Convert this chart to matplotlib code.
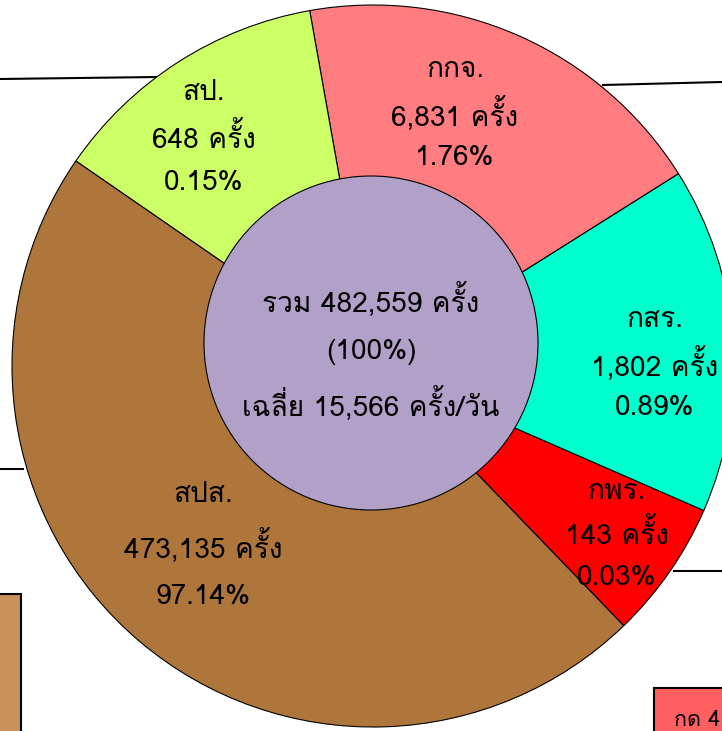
import matplotlib
matplotlib.use("Agg")
import matplotlib.pyplot as plt
from matplotlib.patches import Circle, Rectangle

# ข้อมูล
agencies = ["กพร.", "กสร.", "กกจ.", "สป.", "สปส."]
counts = ["143", "1,802", "6,831", "648", "473,135"]
percents = ["0.03%", "0.89%", "1.76%", "0.15%", "97.14%"]
# ring share as drawn in the infographic (not proportional to counts)
ring_share = [22.4, 55.8, 67.9, 45.3, 168.6]
colors = ["#FF0000", "#00FFCC", "#FF7C80", "#CCFF66", "#AF763B"]
total_text = ["รวม 482,559 ครั้ง", "(100%)", "เฉลี่ย 15,566 ครั้ง/วัน"]

plt.rcParams["font.family"] = ["Loma", "DejaVu Sans"]

fig = plt.figure(figsize=(7.22, 7.31), dpi=100)
ax = fig.add_axes([0, 0, 1, 1])

# leader lines
ax.plot([0, 157], [731 - 79, 731 - 77], color="black", lw=1.5, zorder=1)
ax.plot([603, 722], [731 - 85, 731 - 82], color="black", lw=1.5, zorder=1)
ax.plot([0, 23], [731 - 469, 731 - 469], color="black", lw=1.5, zorder=1)
ax.plot([674, 722], [731 - 571, 731 - 571], color="black", lw=1.5, zorder=1)

wedges, _ = ax.pie(ring_share, colors=colors, startangle=-46.0, counterclock=True,
                   center=(373, 365), radius=361,
                   wedgeprops=dict(edgecolor="black", linewidth=0.8))
for w in wedges:
    w.set_zorder(2)
ax.set_xlim(0, 722)
ax.set_ylim(0, 731)
ax.axis("off")

ax.add_patch(Circle((371, 388), 167, facecolor="#B1A0C7", edgecolor="black", lw=0.8, zorder=3))

label_pos = [(617, 492), (655, 320), (455, 70), (204, 93), (203, 495)]
gaps = [43, 44, 44, 45, 51]
for (x, y), a, c, p, g in zip(label_pos, agencies, counts, percents, gaps):
    for i, t in enumerate([a, c + " ครั้ง", p]):
        ax.text(x, 731 - (y + i * g), t, ha="center", va="center", fontsize=20.2, zorder=4)

for i, t in enumerate(total_text):
    ax.text(371, 731 - (300 + i * 52), t, ha="center", va="center", fontsize=20.2, zorder=4)

# side boxes
ax.add_patch(Rectangle((-5, -5), 26, 731 - 594 + 5, facecolor="#C8925A", edgecolor="black", lw=1.5, zorder=1))
ax.add_patch(Rectangle((654, -5), 80, 731 - 688 + 5, facecolor="#FF5F5F", edgecolor="black", lw=1.5, zorder=1))
ax.text(674, 731 - 720, "กด 4", ha="left", va="center", fontsize=15.5, zorder=4)

fig.savefig("out.png", dpi=100)
